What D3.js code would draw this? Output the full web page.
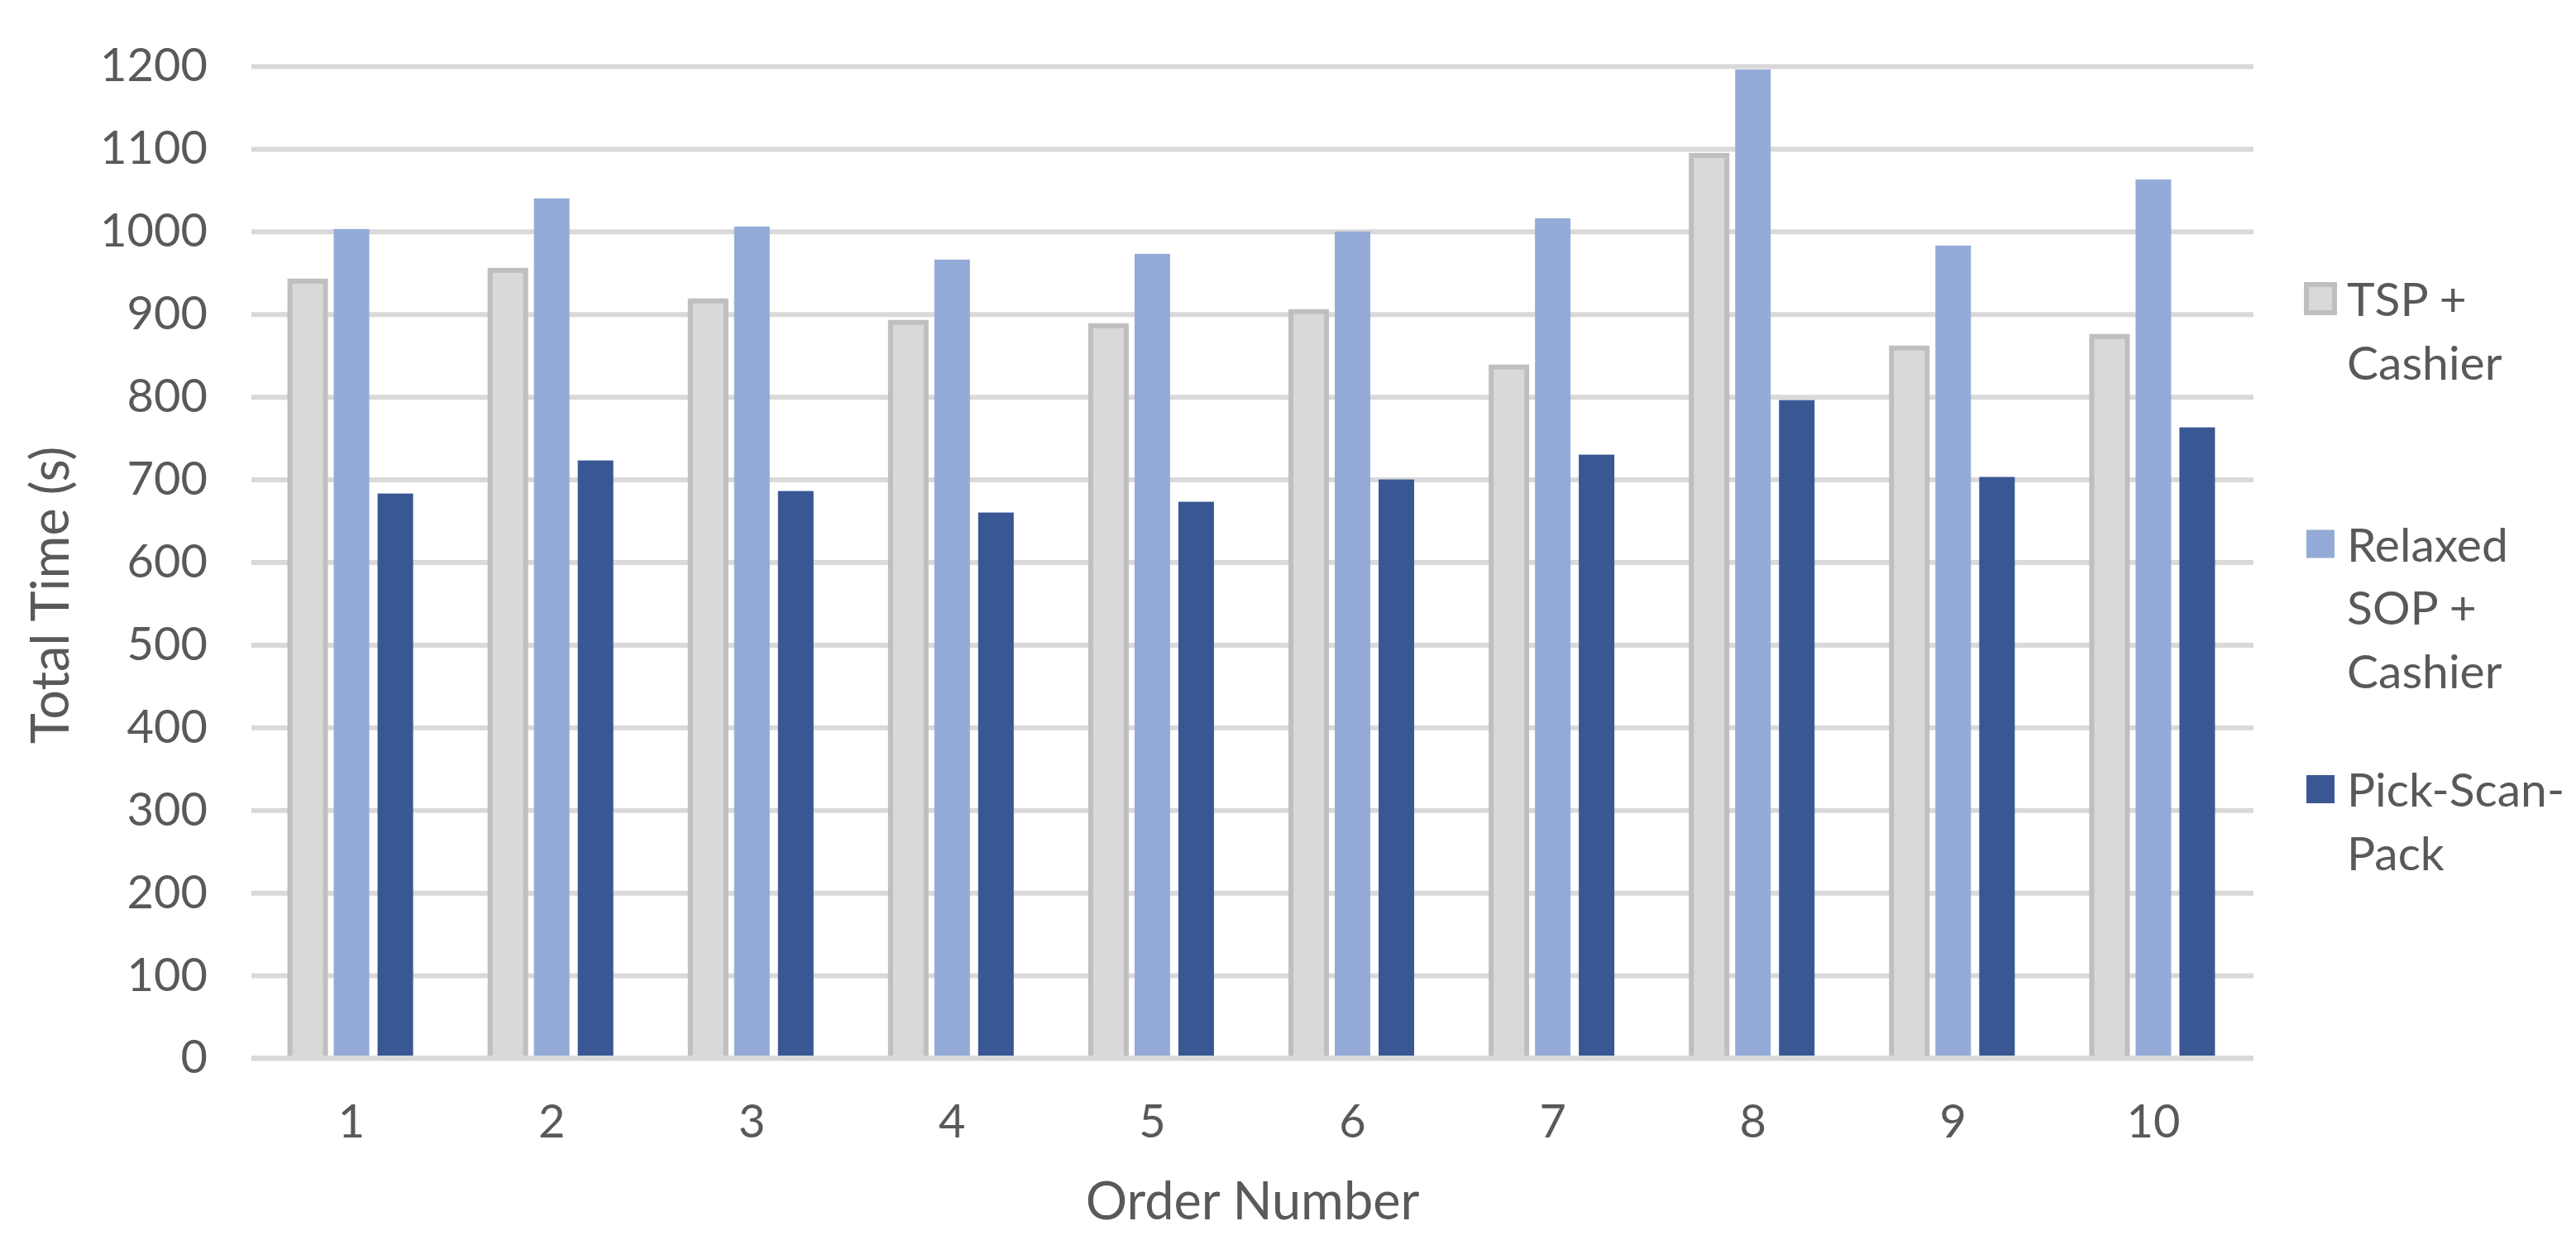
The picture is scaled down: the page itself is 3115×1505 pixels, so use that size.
<!DOCTYPE html>
<html>
<head>
<meta charset="utf-8">
<script src="https://cdn.jsdelivr.net/npm/d3@7"></script>
<style>
  html, body { margin: 0; padding: 0; background: #ffffff; }
  svg { display: block; }
</style>
</head>
<body>
<div id="chart"></div>
<script>
// ---- data ----
const categories = ["1", "2", "3", "4", "5", "6", "7", "8", "9", "10"];
const seriesNames = ["TSP + Cashier", "Relaxed SOP + Cashier", "Pick-Scan-Pack"];
const tspCashier = [940, 953, 916, 890, 886, 903, 836, 1092, 859, 873];
const relaxedSopCashier = [1003, 1040, 1006, 966, 973, 1000, 1016, 1196, 983, 1063];
const pickScanPack = [683, 723, 686, 660, 673, 700, 730, 796, 703, 763];
const yTicks = [0, 100, 200, 300, 400, 500, 600, 700, 800, 900, 1000, 1100, 1200];
const legendLines = [["TSP +", "Cashier"], ["Relaxed", "SOP +", "Cashier"], ["Pick-Scan-", "Pack"]];
const yTitle = "Total Time (s)";
const xTitle = "Order Number";

// ---- layout ----
const W = 3115, H = 1505;
const plot = { left: 304, right: 2725, top: 80, bottom: 1279 };
const fills = ["#d9d9d9", "#94abd8", "#385793"];
const strokes = ["#bfbfbf", null, null];
const textColor = "#595959";
const font = "Lato, 'Open Sans', sans-serif";

const values = [tspCashier, relaxedSopCashier, pickScanPack];

const svg = d3.select("#chart").append("svg")
  .attr("width", W).attr("height", H)
  .style("font-family", font);

svg.append("rect").attr("width", W).attr("height", H).attr("fill", "#ffffff");

const x0 = d3.scaleBand().domain(categories).range([plot.left, plot.right]).paddingInner(0).paddingOuter(0);
const groupW = 149;
const x1 = d3.scaleBand().domain(seriesNames)
  .range([(x0.bandwidth() - groupW) / 2, (x0.bandwidth() + groupW) / 2])
  .paddingInner(10 / 53).paddingOuter(0);
const y = d3.scaleLinear().domain([0, 1200]).range([plot.bottom, plot.top]);

// gridlines
const grid = svg.append("g").attr("transform", `translate(${plot.left},0)`)
  .call(d3.axisLeft(y).tickValues(yTicks).tickSize(-(plot.right - plot.left)).tickFormat(""));
grid.select(".domain").remove();
grid.selectAll("line").attr("stroke", "#d9d9d9").attr("stroke-width", 6);

// bars
const groups = svg.append("g").selectAll("g")
  .data(categories)
  .join("g")
  .attr("transform", d => `translate(${x0(d)},0)`);

groups.selectAll("rect")
  .data((c, i) => seriesNames.map((s, k) => ({ s, k, v: values[k][i] })))
  .join("rect")
  .attr("x", d => x1(d.s))
  .attr("width", x1.bandwidth())
  .attr("y", d => y(d.v))
  .attr("height", d => y(0) - y(d.v))
  .attr("fill", d => fills[d.k])
  .attr("stroke", d => strokes[d.k] || "none")
  .attr("stroke-width", d => strokes[d.k] ? 6 : 0);

// baseline (0 line) over bars
svg.append("line")
  .attr("x1", plot.left).attr("x2", plot.right)
  .attr("y1", y(0)).attr("y2", y(0))
  .attr("stroke", "#d9d9d9").attr("stroke-width", 6);

// y axis labels
const yAxis = svg.append("g").attr("transform", `translate(${plot.left},0)`)
  .call(d3.axisLeft(y).tickValues(yTicks).tickSize(0).tickPadding(53).tickFormat(d3.format("d")));
yAxis.select(".domain").remove();
yAxis.selectAll("text").attr("fill", textColor).style("font-size", "56px").style("font-family", font);

// x axis labels
const xAxis = svg.append("g").attr("transform", `translate(0,${plot.bottom})`)
  .call(d3.axisBottom(x0).tickSize(0).tickPadding(56));
xAxis.select(".domain").remove();
xAxis.selectAll("text").attr("fill", textColor).style("font-size", "56px").style("font-family", font);

// axis titles
svg.append("text")
  .attr("transform", `translate(83,${(plot.top + plot.bottom) / 2 + 40}) rotate(-90)`)
  .attr("text-anchor", "middle")
  .attr("fill", textColor)
  .style("font-size", "63px")
  .text(yTitle);

svg.append("text")
  .attr("x", (plot.left + plot.right) / 2)
  .attr("y", 1474)
  .attr("text-anchor", "middle")
  .attr("fill", textColor)
  .style("font-size", "63px")
  .text(xTitle);

// legend
const legendStep = 296.5;
const legend = svg.append("g");
legendLines.forEach((lines, k) => {
  const base = 382 + k * legendStep;
  legend.append("rect")
    .attr("x", 2789).attr("y", base - 21 - 17)
    .attr("width", 34).attr("height", 34)
    .attr("fill", fills[k])
    .attr("stroke", strokes[k] || "none")
    .attr("stroke-width", strokes[k] ? 6 : 0);
  const t = legend.append("text")
    .attr("x", 2838).attr("y", base)
    .attr("fill", textColor)
    .style("font-size", "57px");
  lines.forEach((ln, j) => {
    t.append("tspan").attr("x", 2838).attr("y", base + j * 76.5).text(ln);
  });
});
</script>
</body>
</html>
